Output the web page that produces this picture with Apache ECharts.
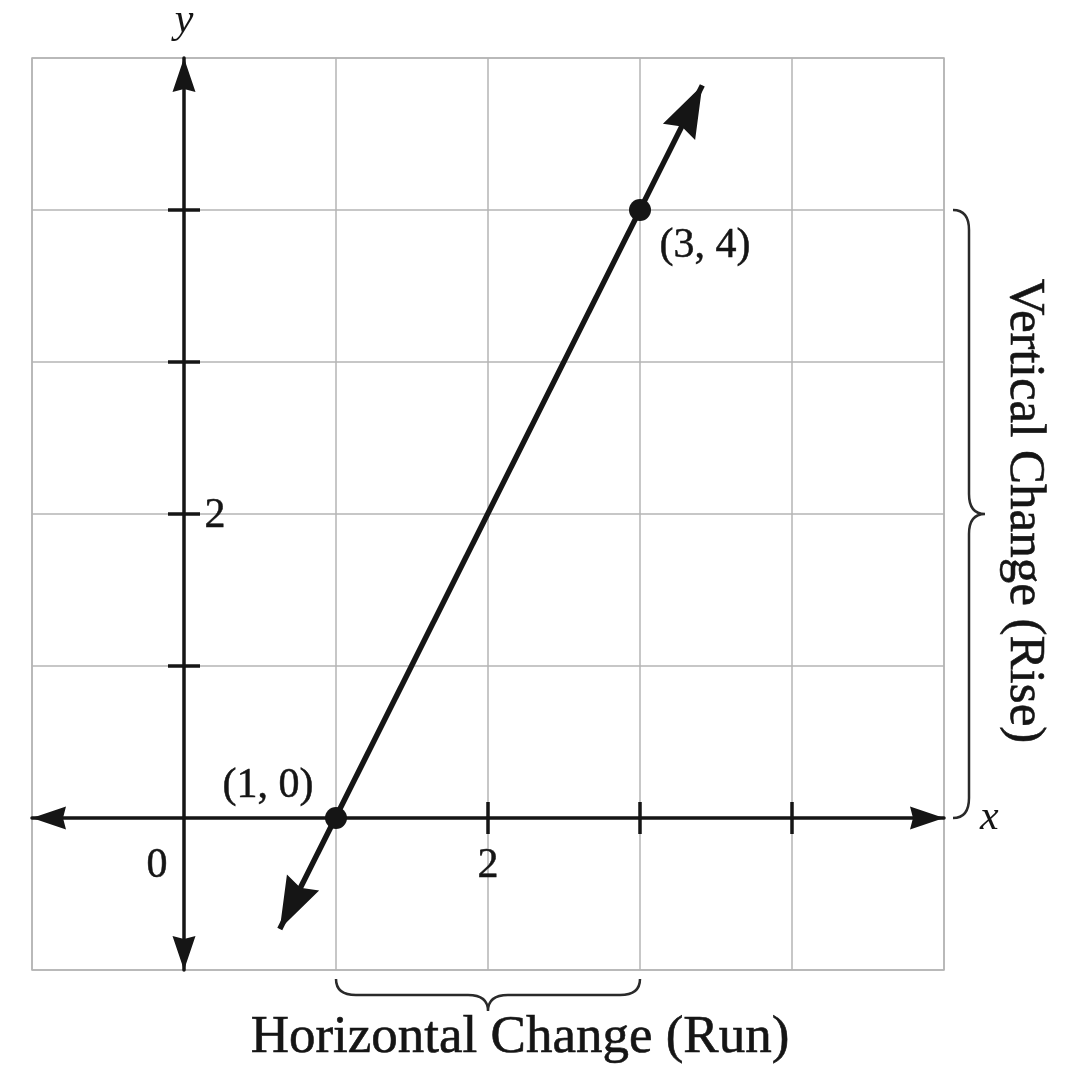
<!DOCTYPE html>
<html>
<head>
<meta charset="utf-8">
<script src="https://cdn.jsdelivr.net/npm/echarts@6/dist/echarts.min.js"></script>
<style>
html,body{margin:0;padding:0;background:#fff;}
#c{width:1075px;height:1082px;}
</style>
</head>
<body>
<div id="c"></div>
<script>
// ---------- data ----------
const xRange = [-1, 5];
const yRange = [-1, 5];
const axisNames = ['x', 'y'];
const points = [[1, 0], [3, 4]];
const pointLabels = ['(1, 0)', '(3, 4)'];
const lineEnds = [[0.63, -0.73], [3.41, 4.82]];
const yTicks = [1, 2, 3, 4];
const xTicks = [2, 3, 4];
const tickLabelPoints = [[0, 0], [2, 0], [0, 2]];
const tickLabelTexts = ['0', '2', '2'];
const riseSpan = [[5, 0], [5, 4]];
const runSpan = [[1, -1], [3, -1]];
const riseLabel = 'Vertical Change (Rise)';
const runLabel = 'Horizontal Change (Run)';

// ---------- styling ----------
const SERIF = '"Liberation Serif", "DejaVu Serif", serif';
const INK = '#151515';
const GRID = '#b4b4b4';
const pointLabelOffsets = [[-68, -32], [65, 36]];
const tickLabelOffsets = [[-27, 48], [0, 48], [31, 2]];
const heavy = {textBorderColor: INK, textBorderWidth: 0.5};
const AXIS_ARROW = 'path://M11.5 0 L23 34 L11.5 31 L0 34 Z';
const LINE_ARROW = 'path://M18 0 L36 52 L18 46 L0 52 Z';

const chart = echarts.init(document.getElementById('c'), null, {renderer: 'canvas'});

const axisCommon = {
  type: 'value',
  interval: 1,
  axisTick: {show: false},
  axisLabel: {show: false},
  splitLine: {show: true, lineStyle: {color: GRID, width: 1.5}},
  nameTextStyle: {fontFamily: SERIF, fontStyle: 'italic', fontSize: 42, color: INK}
};

const option = {
  animation: false,
  backgroundColor: '#fff',
  grid: {
    left: 32, top: 58, width: 912, height: 912,
    show: true, borderColor: GRID, borderWidth: 1.5,
    containLabel: false, outerBoundsMode: 'none'
  },
  xAxis: Object.assign({}, axisCommon, {
    min: xRange[0], max: xRange[1],
    name: axisNames[0], nameLocation: 'end', nameGap: 36,
    nameTextStyle: Object.assign({}, axisCommon.nameTextStyle, {verticalAlign: 'middle'}),
    axisLine: {show: true, onZero: true, symbol: [AXIS_ARROW, AXIS_ARROW], symbolSize: [23, 34], symbolOffset: [17, -17],
      lineStyle: {color: INK, width: 3.5}}
  }),
  yAxis: Object.assign({}, axisCommon, {
    min: yRange[0], max: yRange[1],
    name: axisNames[1], nameLocation: 'end', nameGap: 16,
    axisLine: {show: true, onZero: true, symbol: [AXIS_ARROW, AXIS_ARROW], symbolSize: [23, 34], symbolOffset: [17, -17],
      lineStyle: {color: INK, width: 3.5}}
  }),
  series: [
    {
      name: 'yTicks', type: 'scatter', silent: true, z: 4,
      symbol: 'rect', symbolSize: [32, 3.5],
      itemStyle: {color: INK, opacity: 1},
      data: yTicks.map(v => [0, v])
    },
    {
      name: 'xTicks', type: 'scatter', silent: true, z: 4,
      symbol: 'rect', symbolSize: [3.5, 32],
      itemStyle: {color: INK, opacity: 1},
      data: xTicks.map(v => [v, 0])
    },
    {
      name: 'tickLabels', type: 'scatter', silent: true, z: 4,
      symbolSize: 1, itemStyle: {color: 'rgba(255,255,255,0)', opacity: 1},
      data: tickLabelPoints.map((p, i) => ({
        value: p,
        label: Object.assign({show: true, position: 'inside', offset: tickLabelOffsets[i], formatter: tickLabelTexts[i],
          fontFamily: SERIF, fontSize: 42, color: INK}, heavy)
      }))
    },
    {
      name: 'points', type: 'scatter', silent: true, z: 6,
      symbol: 'circle', symbolSize: 22,
      itemStyle: {color: INK, opacity: 1},
      data: points.map((p, i) => ({
        value: p,
        label: Object.assign({show: true, position: 'inside', offset: pointLabelOffsets[i], formatter: pointLabels[i],
          fontFamily: SERIF, fontSize: 42, color: INK}, heavy)
      })),
      markLine: {
        silent: true, animation: false,
        symbol: [LINE_ARROW, LINE_ARROW], symbolSize: [36, 52], symbolOffset: [[0, 26], [0, 26]],
        label: {show: false},
        lineStyle: {color: INK, width: 5.5, type: 'solid', opacity: 1},
        emphasis: {disabled: true},
        data: [[{coord: lineEnds[0]}, {coord: lineEnds[1]}]]
      }
    },
    {
      name: 'braces', type: 'custom', coordinateSystem: 'cartesian2d', silent: true, z: 3,
      data: [
        [riseSpan[0][0], riseSpan[0][1], riseSpan[1][0], riseSpan[1][1], 0],
        [runSpan[0][0], runSpan[0][1], runSpan[1][0], runSpan[1][1], 1]
      ],
      encode: {x: [0, 2], y: [1, 3]},
      renderItem: function (params, api) {
        const a = api.coord([api.value(0), api.value(1)]);
        const b = api.coord([api.value(2), api.value(3)]);
        const which = api.value(4);
        const dx = b[0] - a[0], dy = b[1] - a[1];
        const L = Math.sqrt(dx * dx + dy * dy);
        const u = [dx / L, dy / L];
        const n = which === 0 ? [1, 0] : [0, 1];
        const P = (t, s) => (a[0] + u[0] * t + n[0] * s).toFixed(2) + ' ' + (a[1] + u[1] * t + n[1] * s).toFixed(2);
        const s0 = 9, h = 16, r = 20;
        const d = 'M ' + P(0, s0) +
          ' Q ' + P(0, s0 + h) + ' ' + P(r, s0 + h) +
          ' L ' + P(L / 2 - r, s0 + h) +
          ' Q ' + P(L / 2, s0 + h) + ' ' + P(L / 2, s0 + 2 * h) +
          ' Q ' + P(L / 2, s0 + h) + ' ' + P(L / 2 + r, s0 + h) +
          ' L ' + P(L - r, s0 + h) +
          ' Q ' + P(L, s0 + h) + ' ' + P(L, s0);
        const textAlong = which === 0 ? L / 2 + 3 : L / 2 + 32;
        const textOut = which === 0 ? 80 : 68;
        const tx = a[0] + u[0] * textAlong + n[0] * textOut;
        const ty = a[1] + u[1] * textAlong + n[1] * textOut;
        return {
          type: 'group',
          children: [
            {type: 'path', shape: {pathData: d}, style: {fill: null, stroke: '#2a2a2a', lineWidth: 2.5}},
            {type: 'text', x: tx, y: ty, rotation: which === 0 ? -Math.PI / 2 : 0,
              style: {text: which === 0 ? riseLabel : runLabel, fontFamily: SERIF, fontSize: which === 0 ? 51 : 53,
                fill: INK, align: 'center', verticalAlign: 'middle', stroke: INK, lineWidth: 0.6}}
          ]
        };
      }
    }
  ]
};
chart.setOption(option);
</script>
</body>
</html>
